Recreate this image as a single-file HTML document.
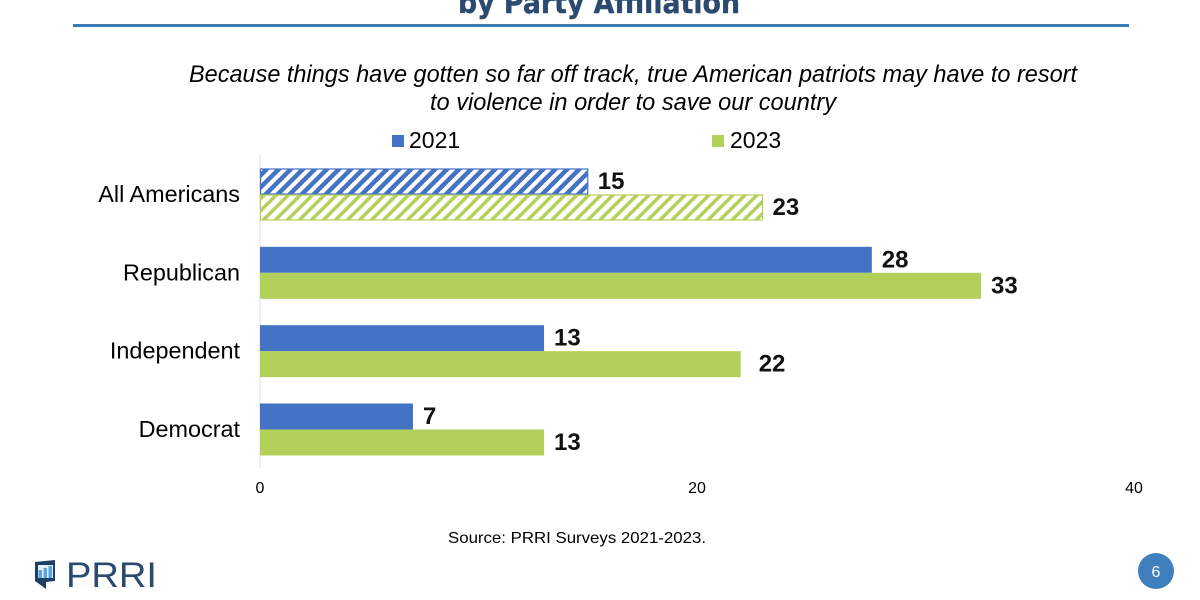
<!DOCTYPE html>
<html lang="en">
<head>
<meta charset="utf-8">
<title>PRRI chart by party affiliation</title>
<style>
html,body{margin:0;padding:0;background:#fff;width:1200px;height:600px;overflow:hidden}
svg{display:block}
text{font-family:"Liberation Sans",Arial,sans-serif}
</style>
</head>
<body>
<svg id="chart" xmlns="http://www.w3.org/2000/svg" width="1200" height="600" viewBox="0 0 1200 600">
<defs>
<pattern id="hatch-blue" patternUnits="userSpaceOnUse" width="8.5" height="8.5" patternTransform="rotate(45)">
<rect width="8.5" height="8.5" fill="#fff"/><rect width="4.5" height="8.5" fill="#4472c4"/>
</pattern>
<pattern id="hatch-green" patternUnits="userSpaceOnUse" width="8.5" height="8.5" patternTransform="rotate(45)">
<rect width="8.5" height="8.5" fill="#fff"/><rect width="3.5" height="8.5" fill="#b3d15a"/>
</pattern>
</defs>
<rect width="1200" height="600" fill="#fff"/>
<text x="599" y="13" text-anchor="middle" font-size="29" font-weight="700" fill="#2c4a70" stroke="#2c4a70" stroke-width="0.4" textLength="282" lengthAdjust="spacingAndGlyphs" style="font-family:'DejaVu Sans',sans-serif">by Party Affiliation</text>
<rect x="73" y="24" width="1056" height="3" fill="#3c7ab5"/>
<text x="633" y="82" text-anchor="middle" font-size="24" font-style="italic" fill="#000" textLength="888" lengthAdjust="spacingAndGlyphs">Because things have gotten so far off track, true American patriots may have to resort</text>
<text x="633" y="110" text-anchor="middle" font-size="24" font-style="italic" fill="#000" textLength="406" lengthAdjust="spacingAndGlyphs">to violence in order to save our country</text>
<g>
<rect x="392" y="135" width="12" height="12" fill="#4472c4"/>
<text x="409" y="148" font-size="23" fill="#000">2021</text>
<rect x="712" y="135" width="12" height="12" fill="#b3d15a"/>
<text x="730" y="148" font-size="23" fill="#000">2023</text>
</g>
<g id="plot"></g>
<text x="577" y="543" text-anchor="middle" font-size="16" fill="#000" textLength="258" lengthAdjust="spacingAndGlyphs">Source: PRRI Surveys 2021-2023.</text>
<g>
<path d="M35 562 L55 560 L55 581 L46 582 L46 589 L35 581 Z" fill="#1d3f66"/>
<rect x="38" y="565" width="15" height="13" fill="#e6f1fa"/>
<rect x="38.5" y="570" width="3.5" height="8" fill="#5aa5e0"/>
<rect x="43.5" y="568" width="3.5" height="10" fill="#5aa5e0"/>
<rect x="48.5" y="566" width="3.5" height="12" fill="#5aa5e0"/>
<text x="66" y="587" font-size="35" fill="#2a4a70" textLength="91" lengthAdjust="spacingAndGlyphs" style="font-weight:400">PRRI</text>
</g>
<circle cx="1156" cy="571" r="18" fill="#3f7fbd"/>
<text x="1156" y="577" text-anchor="middle" font-size="16" fill="#fff">6</text>
</svg>
<script>
const categories = ["All Americans", "Republican", "Independent", "Democrat"];
const values2021 = [15, 28, 13, 7];
const values2023 = [23, 33, 22, 13];
const hatchedCategories = ["All Americans"];
const xTickLabels = [0, 20, 40];

const svgNS = "http://www.w3.org/2000/svg";
const plot = document.getElementById("plot");
const xScale = function (v) { return 260 + v * 21.85; };
const yBand = function (i) { return 194.5 + i * 78.33; };
const barHeight = 26;
const independentLabelNudge = 8;

function make(tag, attrs, text) {
  const el = document.createElementNS(svgNS, tag);
  Object.keys(attrs).forEach(function (k) { el.setAttribute(k, attrs[k]); });
  if (text !== undefined) { el.textContent = text; }
  plot.appendChild(el);
  return el;
}

const axisLine = make("line", { x1: xScale(0), x2: xScale(0), y1: 155, y2: 468, stroke: "#dde3ee", "stroke-width": 1.2 });



xTickLabels.forEach(function (t) {
  const tick = make("text", { x: xScale(t), y: 493, "text-anchor": "middle", "font-size": 16, fill: "#000" }, t);
  
  
});

function drawBar(value, y, color, hatch, hatchId) {
  const w = xScale(value) - xScale(0);
  const attrs = hatch
    ? { x: xScale(0) + 0.5, y: y + 0.5, width: w - 0.5, height: barHeight - 1, fill: "url(#" + hatchId + ")", stroke: color, "stroke-width": 1.2 }
    : { x: xScale(0), y: y, width: w, height: barHeight, fill: color };
  return make("rect", attrs);
}

categories.forEach(function (cat, i) {
  const c = yBand(i);
  const hatch = hatchedCategories.indexOf(cat) !== -1;

  const label = make("text", { x: 240, y: c + 7.5, "text-anchor": "end", "font-size": 23.4, fill: "#000" }, cat);
  
  

  const barA = drawBar(values2021[i], c - barHeight, "#4472c4", hatch, "hatch-blue");
  
  

  const barB = drawBar(values2023[i], c, "#b3d15a", hatch, "hatch-green");
  
  

  const labelA = make("text", { x: xScale(values2021[i]) + 10, y: c - 5.5, "font-size": 24, "font-weight": 700, fill: "#111" }, values2021[i]);
  
  

  const extra = cat === "Independent" ? independentLabelNudge : 0;
  const labelB = make("text", { x: xScale(values2023[i]) + 10 + extra, y: c + 20.5, "font-size": 24, "font-weight": 700, fill: "#111" }, values2023[i]);
  
  
});
</script>
</body>
</html>
